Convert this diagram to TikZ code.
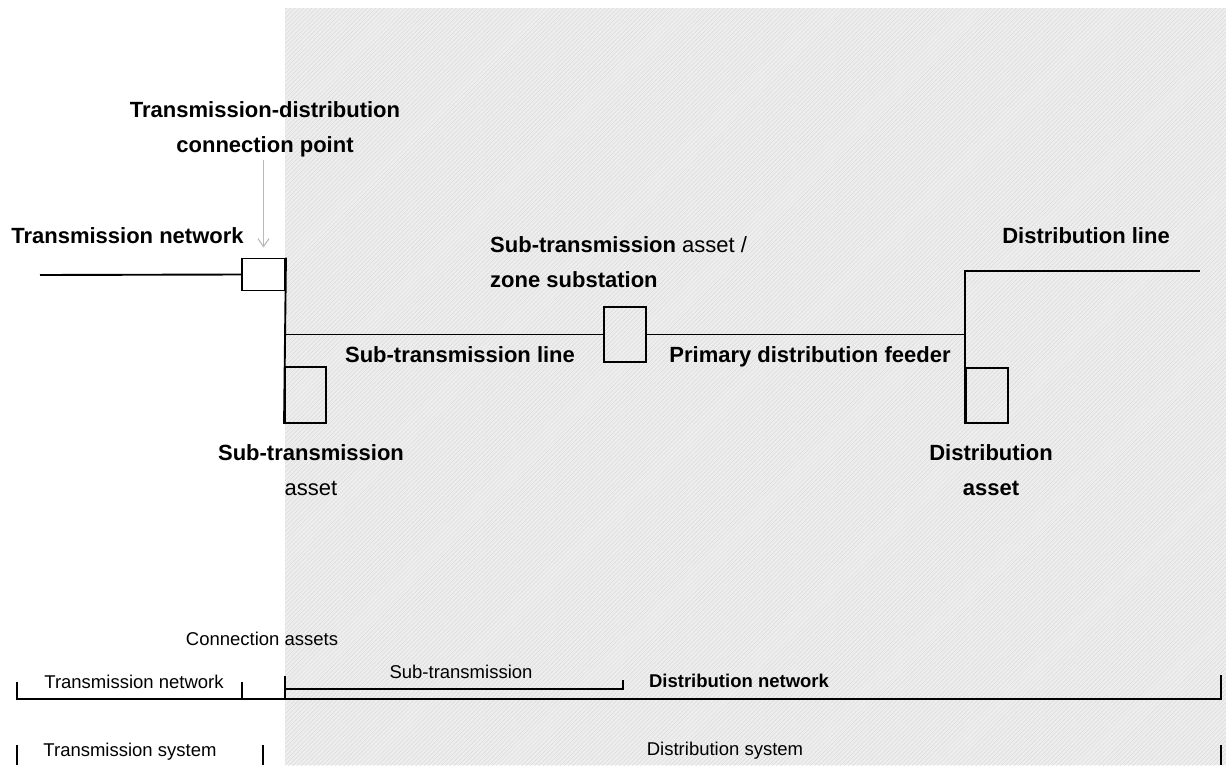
\documentclass[tikz,border=0pt]{standalone}
\usepackage{fontspec}
\setmainfont{Liberation Sans}
\usetikzlibrary{arrows.meta,patterns.meta,calc}

\begin{document}
\begin{tikzpicture}[x=1pt,y=-1pt,
    asset/.style={draw=black,line width=1.9pt,minimum width=42pt,minimum height=55pt,inner sep=0},
    wire/.style={line width=1.9pt},
    pointer/.style={draw=gray!55,line width=1.1pt,-{Straight Barb[length=8pt,width=11pt]}},
    head/.style={font=\fontsize{22}{35}\selectfont\bfseries,inner sep=0,align=center},
    band/.style={font=\fontsize{18.5}{22}\selectfont,inner sep=0},
    brace/.style={line width=1.5pt}]
    % page and shaded distribution area
    \fill[white] (0,0) rectangle (1226,765);
    \fill[gray!13] (285,8) rectangle (1226,765);
    \fill[pattern={Lines[angle=45,distance=3pt,line width=0.5pt]},pattern color=gray!30] (285,8) rectangle (1226,765);

    % assets
    \node[asset,minimum width=43pt,minimum height=32pt] (cpt) at (263.5,274.5) {};
    \node[asset,minimum width=41pt,minimum height=56pt] (sta) at (305.5,395) {};
    \node[asset] (zss) at (625,334.5) {};
    \node[asset] (dsa) at (987,395.5) {};

    % lines
    \coordinate (tnend) at (40,275);
    \coordinate (stj) at (cpt.east |- zss.west);
    \coordinate (dlj) at (dsa.west |- 0,271);
    \coordinate (dlend) at (1200,271);
    \draw[wire] (tnend) -- (cpt.west);
    \draw[wire] (cpt.north east) -- (sta.south west);
    \draw[wire] (stj) -- (zss.west);
    \draw[wire] (zss.east) -- (dsa.west |- zss.east);
    \draw[wire] (dlend) -- (dlj) -- (dsa.south west);

    % labels (base = last line)
    \node[head,anchor=base] (tdlbl) at (265,152) {Transmission-distribution\\connection point};
    \node[head,anchor=base] (tnlbl) at (127.5,243) {Transmission network};
    \node[head,anchor=base west,align=left] (zslbl) at (490,287) {Sub-transmission \textmd{asset /}\\zone substation};
    \node[head,anchor=base] (dllbl) at (1086,243) {Distribution line};
    \node[head,anchor=base] (stllbl) at (460,362) {Sub-transmission line};
    \node[head,anchor=base] (pdflbl) at (810,362) {Primary distribution feeder};
    \node[head,anchor=base] (stalbl) at (311,495) {Sub-transmission\\\textmd{asset}};
    \node[head,anchor=base] (dalbl) at (991,495) {Distribution\\asset};
    \draw[pointer] ($(tdlbl.south -| cpt.north)+(0,3)$) -- ($(cpt.north)+(0,-10)$);

    % network and system bands
    \node[band,anchor=base] (calbl) at (262,645) {Connection assets};
    \node[band,anchor=base] (tnband) at (134,688) {Transmission network};
    \node[band,anchor=base] (stband) at (461,678) {Sub-transmission};
    \node[band,anchor=base,font=\fontsize{18.5}{22}\selectfont\bfseries] (dnband) at (739,687) {Distribution network};
    \node[band,anchor=base] (tsband) at (130,756) {Transmission system};
    \node[band,anchor=base] (dsband) at (725,755) {Distribution system};
    \draw[brace] (17,682) -- (17,699) -- (1221,699) -- (1221,675);
    \draw[brace] (242,682) -- (242,699);
    \draw[brace] (285,676) -- (285,699);
    \draw[brace] (285,689) -- (623,689) -- (623,680);
    \draw[brace] (17,745) -- (17,765);
    \draw[brace] (263,745) -- (263,765);
    \draw[brace] (1221,745) -- (1221,765);
\end{tikzpicture}
\end{document}
